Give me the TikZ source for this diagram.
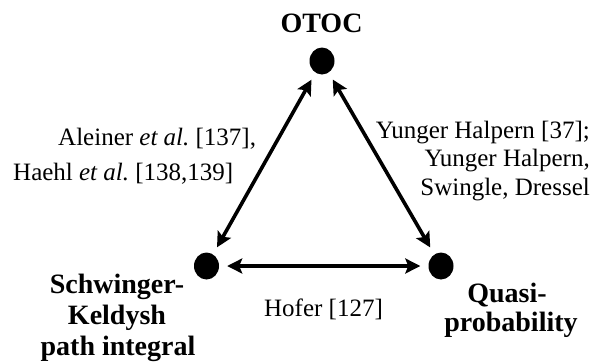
\documentclass[tikz,border=0pt]{standalone}
\usepackage{fontspec}
\setmainfont{Liberation Serif}
\usetikzlibrary{arrows.meta,shapes.geometric}
\begin{document}
\frenchspacing
\begin{tikzpicture}[x=1pt,y=-1pt,
  dot/.style={ellipse,fill=black,inner sep=0pt,minimum width=25pt,minimum height=27pt},
  conn/.style={line width=3.6pt,{Stealth[length=15pt,width=15pt,inset=3pt]}-{Stealth[length=15pt,width=15pt,inset=3pt]},shorten <=8pt,shorten >=8pt},
  boldlab/.style={font=\fontsize{28}{31}\selectfont\bfseries,inner sep=0pt,anchor=base},
  reflab/.style={font=\fontsize{25}{28}\selectfont,inner sep=0pt}
]
\useasboundingbox (0,0) rectangle (602,362);
\node[dot] (otoc) at (322,61) {};
\node[dot] (sk) at (206.5,266) {};
\node[dot] (qp) at (441,266) {};
\draw[conn] (otoc) -- (sk);
\draw[conn] (otoc) -- (qp);
\draw[conn] (sk) -- (qp);
\node[boldlab] (totoc) at (321.5,32) {OTOC};
\node[boldlab] (tsk1) at (117,293) {Schwinger-};
\node[boldlab] (tsk2) at (117,324) {Keldysh};
\node[boldlab] (tsk3) at (118,355) {path integral};
\node[boldlab] (tqp1) at (507,302) {Quasi-};
\node[boldlab] (tqp2) at (511,331) {probability};
\node[reflab,anchor=base west] (la1) at (58,145) {Aleiner {\itshape et al.}\ [137],};
\node[reflab,anchor=base west] (la2) at (13,180) {Haehl {\itshape et al.}\ [138,139]};
\node[reflab,anchor=base east] (ra1) at (590,138) {Yunger Halpern [37];};
\node[reflab,anchor=base east] (ra2) at (590,166) {Yunger Halpern,};
\node[reflab,anchor=base east] (ra3) at (590,195) {Swingle, Dressel};
\node[reflab,anchor=base] (hof) at (323.5,316) {Hofer [127]};
\end{tikzpicture}
\end{document}
